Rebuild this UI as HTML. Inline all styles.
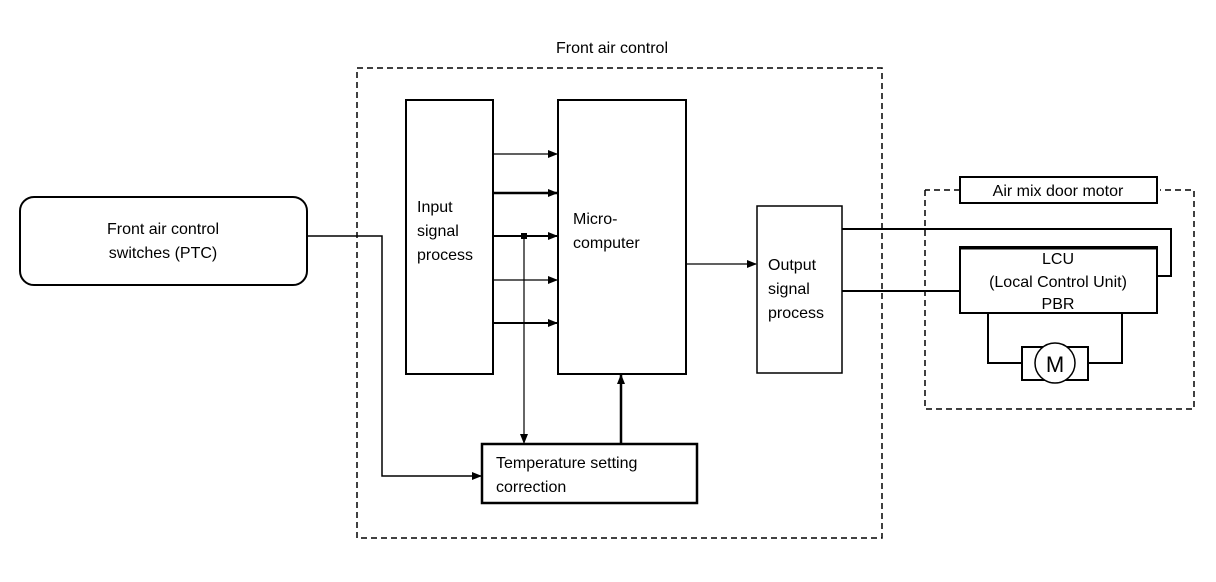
<!DOCTYPE html>
<html><head><meta charset="utf-8"><style>
html,body{margin:0;padding:0;background:#fff;}
svg{display:block;}
text{font-family:"Liberation Sans",sans-serif;font-size:16px;fill:#000;}
</style></head><body>
<svg width="1216" height="582" viewBox="0 0 1216 582" xmlns="http://www.w3.org/2000/svg">
<defs>
<marker id="a" markerWidth="10" markerHeight="8" refX="9" refY="4" orient="auto" markerUnits="userSpaceOnUse">
<path d="M0,0 L10,4 L0,8 z" fill="#000"/></marker>
</defs>
<g fill="none" stroke="#000">
<rect x="357" y="68" width="525" height="470" stroke-width="1.5" stroke-dasharray="6,4"/>
<rect x="20" y="197" width="287" height="88" rx="14" stroke-width="2"/>
<rect x="406" y="100" width="87" height="274" stroke-width="2"/>
<rect x="558" y="100" width="128" height="274" stroke-width="2"/>
<rect x="482" y="444" width="215" height="59" stroke-width="2.5"/>
<rect x="757" y="206" width="85" height="167" stroke-width="1.5"/>
<path d="M925,190 V409 H1194 V190 H1160 M960,190 H925" stroke-width="1.5" stroke-dasharray="6,4"/>
<rect x="960" y="177" width="197" height="26" stroke-width="2"/>
<rect x="960" y="247" width="197" height="66" stroke-width="2"/>
<line x1="960" y1="248" x2="1157" y2="248" stroke-width="3"/>
<!-- arrows into micro -->
<line x1="493" y1="154" x2="557" y2="154" stroke-width="1.2" marker-end="url(#a)"/>
<line x1="493" y1="193" x2="557" y2="193" stroke-width="2.5" marker-end="url(#a)"/>
<line x1="493" y1="236" x2="557" y2="236" stroke-width="2" marker-end="url(#a)"/>
<line x1="493" y1="280" x2="557" y2="280" stroke-width="1.2" marker-end="url(#a)"/>
<line x1="493" y1="323" x2="557" y2="323" stroke-width="2" marker-end="url(#a)"/>
<line x1="524" y1="236" x2="524" y2="443" stroke-width="1.2" marker-end="url(#a)"/>
<line x1="621" y1="444" x2="621" y2="375" stroke-width="2.5" marker-end="url(#a)"/>
<polyline points="307,236 382,236 382,476 481,476" stroke-width="1.5" marker-end="url(#a)"/>
<line x1="686" y1="264" x2="756" y2="264" stroke-width="1.2" marker-end="url(#a)"/>
<polyline points="842,229 1171,229 1171,276 1157,276" stroke-width="2"/>
<line x1="842" y1="291" x2="960" y2="291" stroke-width="2"/>
<polyline points="988,313 988,363 1022,363" stroke-width="2"/>
<polyline points="1122,313 1122,363 1088,363" stroke-width="2"/>
<rect x="1022" y="347" width="66" height="33" stroke-width="2"/>
<circle cx="1055" cy="363" r="20" fill="#fff" stroke-width="1.5"/>
</g>
<rect x="521" y="233" width="6" height="6" fill="#000"/>
<text x="612" y="53" text-anchor="middle">Front air control</text>
<text x="163" y="234" text-anchor="middle">Front air control</text>
<text x="163" y="258" text-anchor="middle">switches (PTC)</text>
<text x="417" y="212">Input</text>
<text x="417" y="236">signal</text>
<text x="417" y="260">process</text>
<text x="573" y="224">Micro-</text>
<text x="573" y="248">computer</text>
<text x="768" y="270">Output</text>
<text x="768" y="294">signal</text>
<text x="768" y="318">process</text>
<text x="496" y="468">Temperature setting</text>
<text x="496" y="492">correction</text>
<text x="1058" y="196" text-anchor="middle">Air mix door motor</text>
<text x="1058" y="264" text-anchor="middle">LCU</text>
<text x="1058" y="287" text-anchor="middle">(Local Control Unit)</text>
<text x="1058" y="309" text-anchor="middle">PBR</text>
<text x="1055" y="372" text-anchor="middle" style="font-size:22px">M</text>
</svg>
</body></html>
